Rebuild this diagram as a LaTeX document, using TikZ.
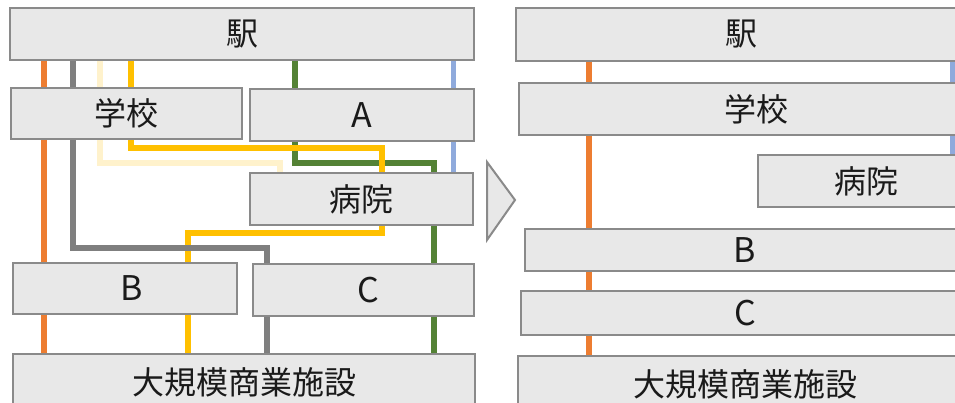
\documentclass[tikz,border=0pt]{standalone}
\usepackage{fontspec}
\newfontfamily\jp{Noto Sans CJK JP}
\usetikzlibrary{backgrounds}
\definecolor{boxfill}{HTML}{E8E8E8}
\definecolor{boxline}{HTML}{8A8A8A}
\definecolor{txt}{HTML}{1A1A1A}
\definecolor{lorange}{HTML}{ED7D31}
\definecolor{lgray}{HTML}{7F7F7F}
\definecolor{lyellow}{HTML}{FFC000}
\definecolor{lpale}{HTML}{FFF2CC}
\definecolor{lgreen}{HTML}{548235}
\definecolor{lblue}{HTML}{8FAADC}
\tikzset{
  placebox/.style={rectangle, draw=boxline, fill=boxfill, line width=1.5pt, inner sep=0pt, text=txt, font=\jp\fontsize{32}{32}\selectfont},
  latinbox/.style={placebox, font=\jp\fontsize{34}{34}\selectfont},
  route/.style={line width=6pt},
  arrowshape/.style={draw=boxline, fill=boxfill, line width=2pt, line join=miter}
}
\begin{document}
\begin{tikzpicture}[x=1pt,y=-1pt]
\clip (0,0) rectangle (955,403);
% ---------- left panel ----------
\node[placebox, minimum width=464pt, minimum height=52pt] (eki1) at (242,34) {駅};
\node[placebox, minimum width=231pt, minimum height=51pt] (gakko1) at (126.5,113.5) {学校};
\node[latinbox, minimum width=224pt, minimum height=52pt] (A1) at (362,115) {A};
\node[placebox, minimum width=223pt, minimum height=52pt] (byoin1) at (361.5,199) {病院};
\node[placebox, minimum width=224pt, minimum height=51pt, label={[latinbox, draw=none, fill=none, xshift=7pt]center:B}] (B1) at (125,288.5) {};
\node[placebox, minimum width=221pt, minimum height=52pt, label={[latinbox, draw=none, fill=none, xshift=5pt]center:C}] (C1) at (363.5,290) {};
\node[placebox, minimum width=462pt, minimum height=56pt] (shop1) at (244,382) {大規模商業施設};
% ---------- arrow ----------
\draw[arrowshape] (487,162) -- (515,200) -- (487,240) -- cycle;
% ---------- right panel ----------
\node[placebox, minimum width=450pt, minimum height=53pt] (eki2) at (741,34.5) {駅};
\node[placebox, minimum width=474pt, minimum height=52pt] (gakko2) at (756,109) {学校};
\node[placebox, minimum width=216pt, minimum height=52pt] (byoin2) at (866,181) {病院};
\node[latinbox, minimum width=440pt, minimum height=42pt] (B2) at (745,250) {B};
\node[latinbox, minimum width=448pt, minimum height=44pt] (C2) at (745,313) {C};
\node[placebox, minimum width=454pt, minimum height=56pt] (shop2) at (745,384) {大規模商業施設};
% ---------- routes ----------
\coordinate (xo) at (44,0);
\coordinate (xg) at (73,0);
\coordinate (g1) at (267,248);
\coordinate (xp) at (100,0);
\coordinate (p1) at (280,163);
\coordinate (xy) at (131,0);
\coordinate (y1) at (382,148);
\coordinate (y2) at (188,233);
\coordinate (xgr) at (295,0);
\coordinate (gr1) at (434,163);
\coordinate (xb) at (453,0);
\coordinate (xo2) at (589,0);
\coordinate (xb2) at (952,0);
\begin{scope}[on background layer]
\fill[white] (0,0) rectangle (955,403);
\draw[route, lpale] (eki1.south -| xp) |- (p1) -- (p1 |- byoin1.north);
\draw[route, lgreen] (eki1.south -| xgr) |- (gr1) -- (gr1 |- shop1.north);
\draw[route, lyellow] (eki1.south -| xy) |- (y1) |- (y2) -- (y2 |- shop1.north);
\draw[route, lgray] (eki1.south -| xg) |- (g1) -- (g1 |- shop1.north);
\draw[route, lorange] (eki1.south -| xo) -- (shop1.north -| xo);
\draw[route, lblue, line width=5pt] (eki1.south -| xb) -- (byoin1.north -| xb);
\draw[route, lorange] (eki2.south -| xo2) -- (shop2.north -| xo2);
\draw[route, lblue, line width=5pt] (eki2.south -| xb2) -- (byoin2.north -| xb2);
\end{scope}
\end{tikzpicture}
\end{document}
